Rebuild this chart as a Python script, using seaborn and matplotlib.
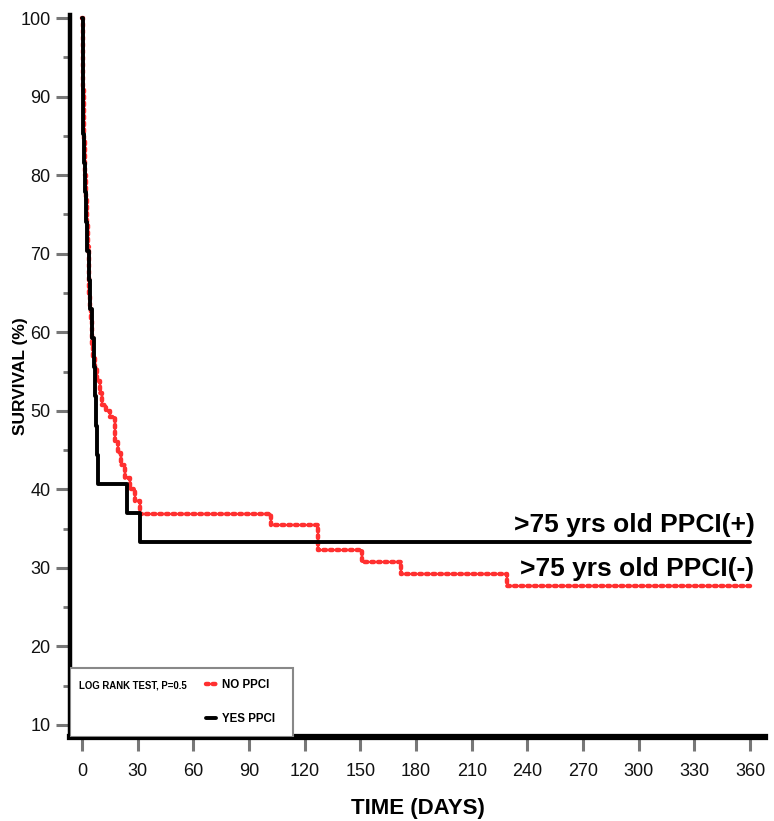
import matplotlib
matplotlib.use("Agg")
import matplotlib.pyplot as plt
import seaborn as sns
import pandas as pd
from matplotlib.patches import Rectangle
from matplotlib.ticker import MultipleLocator

# ---- data ----
yes_days = [0, 0.5, 1, 1.5, 2, 2.5, 3.5, 4.5, 5.5, 6.2, 6.8, 7.4, 8.0, 8.5, 24, 31, 360]
yes_surv = [100, 85.2, 81.5, 77.8, 74.1, 70.4, 66.7, 63.0, 59.3, 55.6, 51.9, 48.1, 44.4,
            40.7, 37.0, 33.3, 33.3]

no_days = [0, 0.3, 0.6, 1, 1.5, 2, 2.5, 3, 3.5, 4, 4.5, 5, 5.5, 6, 7, 8, 9.5, 11, 13, 15,
           18, 19.5, 21, 23, 26, 28.5, 31, 102, 127, 151, 172, 229, 360]
no_surv = [100, 95.4, 90.8, 84.6, 80.0, 76.9, 73.8, 70.8, 67.7, 64.6, 63.1, 61.5, 58.5, 56.9,
           55.4, 53.8, 52.3, 50.8, 50.0, 49.2, 46.2, 44.6, 43.1, 41.5, 40.0, 38.5, 36.9,
           35.4, 32.3, 30.8, 29.2, 27.7, 27.7]

x_ticks = list(range(0, 361, 30))
y_ticks = list(range(10, 101, 10))
series_labels = ["NO PPCI", "YES PPCI"]
curve_labels = [">75 yrs old PPCI(+)", ">75 yrs old PPCI(-)"]
stat_text = "LOG RANK TEST, P=0.5"

df_no = pd.DataFrame({"day": no_days, "surv": no_surv})
df_yes = pd.DataFrame({"day": yes_days, "surv": yes_surv})

sns.set_style("ticks")
plt.rcParams["font.family"] = ["Liberation Sans", "DejaVu Sans"]
plt.rcParams["text.color"] = "black"
plt.rcParams["axes.labelcolor"] = "black"

fig = plt.figure(figsize=(7.74, 8.21), dpi=100)
ax = fig.add_axes([70 / 774, 1 - 737 / 821, 695 / 774, 722 / 821])

sns.lineplot(data=df_no, x="day", y="surv", ax=ax, estimator=None, drawstyle="steps-post",
             color="#ff3030", linewidth=3.2, linestyle=(0, (0.6, 0.9)),
             dash_capstyle="round", label=series_labels[0], zorder=2)
sns.lineplot(data=df_yes, x="day", y="surv", ax=ax, estimator=None, drawstyle="steps-post",
             color="black", linewidth=2.8, label=series_labels[1], zorder=3)

ax.set_xlim(-6.5, 368)
ax.set_ylim(8.47, 100.4)
ax.set_xticks(x_ticks)
ax.set_yticks(y_ticks)
ax.yaxis.set_minor_locator(MultipleLocator(5))

for s in ["top", "right"]:
    ax.spines[s].set_visible(False)
ax.spines["left"].set_linewidth(3.2)
ax.spines["bottom"].set_linewidth(4.5)
ax.spines["left"].set_color("black")
ax.spines["bottom"].set_color("black")

ax.tick_params(axis="both", which="major", length=10, width=2.2, color="#777777",
               labelsize=13, labelcolor="#111111", pad=4)
ax.tick_params(axis="y", which="minor", length=5, width=2.0, color="#777777")
ax.tick_params(axis="x", pad=9)

ax.set_xlabel("TIME (DAYS)", fontsize=16, fontweight="bold")
ax.xaxis.set_label_coords(0.5, -61 / 722)
ax.set_ylabel("SURVIVAL (%)", fontsize=12.5, fontweight="bold", fontstretch="condensed")
ax.yaxis.set_label_coords(-42 / 695, 0.5)

# curve annotations
ax.text(0.985, 33.3 + 1.3, curve_labels[0], ha="right", va="baseline", fontsize=19,
        fontweight="bold", color="black", transform=ax.get_yaxis_transform())
ax.text(0.985, 27.7 + 1.3, curve_labels[1], ha="right", va="baseline", fontsize=19,
        fontweight="bold", color="black", transform=ax.get_yaxis_transform())

# legend box
ax.add_patch(Rectangle((0, 0), 223 / 695, 69 / 722, transform=ax.transAxes,
                       facecolor="white", edgecolor="#888888", linewidth=1.5, zorder=4))
ax.text(9 / 695, 52 / 722, stat_text, transform=ax.transAxes, fontsize=6.9,
        fontweight="bold", va="center", ha="left", zorder=5)
leg = ax.legend(loc="upper left", bbox_to_anchor=(136 / 695, 58 / 722), frameon=False,
                borderpad=0, borderaxespad=0, handlelength=0.9, handletextpad=0.5,
                labelspacing=1.9, prop={"size": 8.3, "weight": "bold"})
leg.set_zorder(6)

fig.savefig("out.png", dpi=100)
